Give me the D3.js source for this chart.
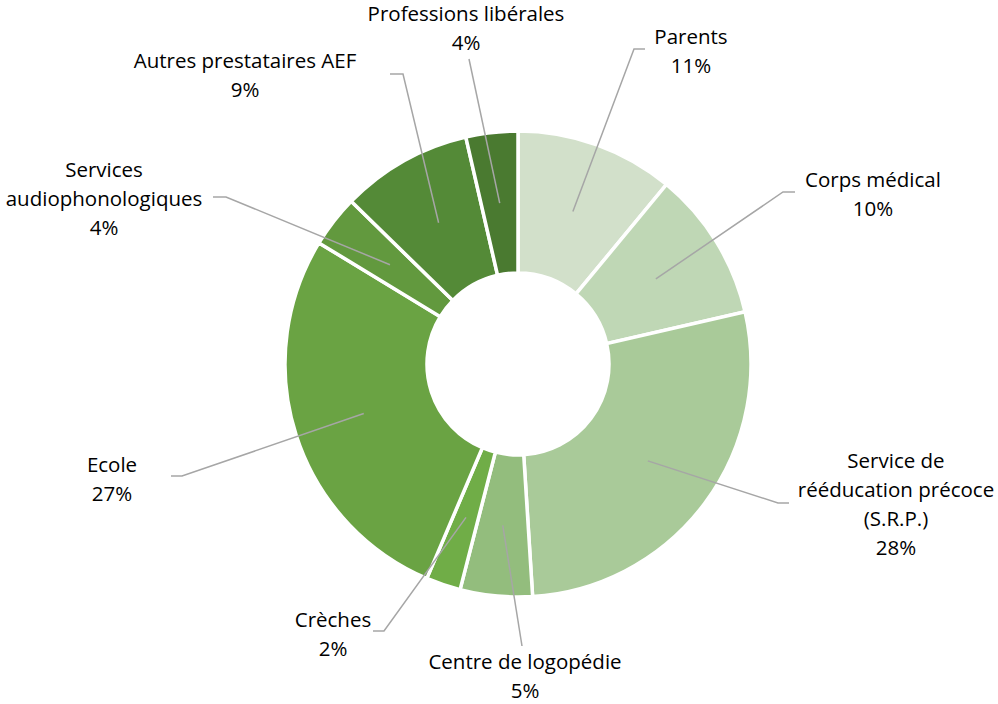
<!DOCTYPE html>
<html>
<head>
<meta charset="utf-8">
<script src="https://cdn.jsdelivr.net/npm/d3@7"></script>
<style>
  body { margin: 0; background: #fff; }
  svg text { font-family: "Open Sans", Lato, sans-serif; font-size: 20.5px; fill: #000; }
</style>
</head>
<body>
<div id="chart"></div>
<script>
    'use strict';

    // Data
    var categories = ['Parents', 'Corps médical', 'Service de rééducation précoce (S.R.P.)',
        'Centre de logopédie', 'Crèches', 'Ecole', 'Services audiophonologiques',
        'Autres prestataires AEF', 'Professions libérales'];
    var values = [11.0, 10.4, 27.6, 5.0, 2.4, 27.3, 3.6, 9.1, 3.6];
    var colors = ['#D2E0CA', '#BFD7B5', '#A9CA99', '#93BD7D', '#70AD47',
        '#6AA343', '#62993E', '#548A37', '#4A7A30'];
    // Label text lines (name wrapped as in the original)
    var labelLines = [
        ['Parents'],
        ['Corps médical'],
        ['Service de', 'rééducation précoce', '(S.R.P.)'],
        ['Centre de logopédie'],
        ['Crèches'],
        ['Ecole'],
        ['Services', 'audiophonologiques'],
        ['Autres prestataires AEF'],
        ['Professions libérales']
    ];

    // Layout
    var width = 998, height = 704;
    var cx = 518, cy = 364, outerR = 233, innerR = 91;
    var lineH = 29;
    // label anchor (centre x, first baseline y) and leader elbow / end
    var labelLayout = [
        { x: 691, y: 44, elbow: [634, 49], end: [645, 49] },
        { x: 873, y: 187, elbow: [783, 192], end: [795, 192] },
        { x: 896, y: 468, elbow: [778, 503], end: [789, 503] },
        { x: 525, y: 669, elbow: null, end: [522, 646] },
        { x: 333, y: 627, elbow: [384, 631], end: [373, 631] },
        { x: 112, y: 472, elbow: [182, 476], end: [171, 476] },
        { x: 104, y: 177, elbow: [226, 197], end: [213, 197] },
        { x: 245, y: 68, elbow: [403, 74], end: [390, 74] },
        { x: 466, y: 21, elbow: null, end: [469, 59] }
    ];

    var data = categories.map(function(c, i) {
        return { name: c, value: values[i], color: colors[i], lines: labelLines[i], layout: labelLayout[i] };
    });
    var total = d3.sum(values);
    var pctFormat = function(v) { return Math.round(v / total * 100) + '%'; };

    var svg = d3.select('#chart').append('svg')
        .attr('width', width).attr('height', height);
    var g = svg.append('g').attr('transform', 'translate(' + cx + ',' + cy + ')');

    var pie = d3.pie().sort(null).value(function(d) { return d.value; });
    var arc = d3.arc().innerRadius(innerR).outerRadius(outerR);

    var arcs = pie(data);

    // Slices
    g.selectAll('path.slice').data(arcs).enter()
        .append('path')
        .attr('class', 'slice')
        .attr('d', arc)
        .attr('fill', function(d) { return d.data.color; })
        .attr('stroke', '#fff')
        .attr('stroke-width', 3.5);

    // Leader lines: from slice centroid to the label
    svg.selectAll('polyline.leader').data(arcs).enter()
        .append('polyline')
        .attr('class', 'leader')
        .attr('fill', 'none')
        .attr('stroke', '#A6A6A6')
        .attr('stroke-width', 1.5)
        .attr('points', function(d) {
            var c = arc.centroid(d);
            var pts = [[cx + c[0], cy + c[1]]];
            var L = d.data.layout;
            if (L.elbow) pts.push(L.elbow);
            pts.push(L.end);
            return pts.map(function(p) { return p.join(','); }).join(' ');
        });

    // Labels
    var labels = svg.selectAll('text.label').data(arcs).enter()
        .append('text')
        .attr('class', 'label')
        .attr('text-anchor', 'middle');
    labels.each(function(d) {
        var t = d3.select(this);
        var L = d.data.layout;
        var lines = d.data.lines.concat([pctFormat(d.data.value)]);
        lines.forEach(function(s, i) {
            t.append('tspan').attr('x', L.x).attr('y', L.y + i * lineH).text(s);
        });
    });
</script>
</body>
</html>
